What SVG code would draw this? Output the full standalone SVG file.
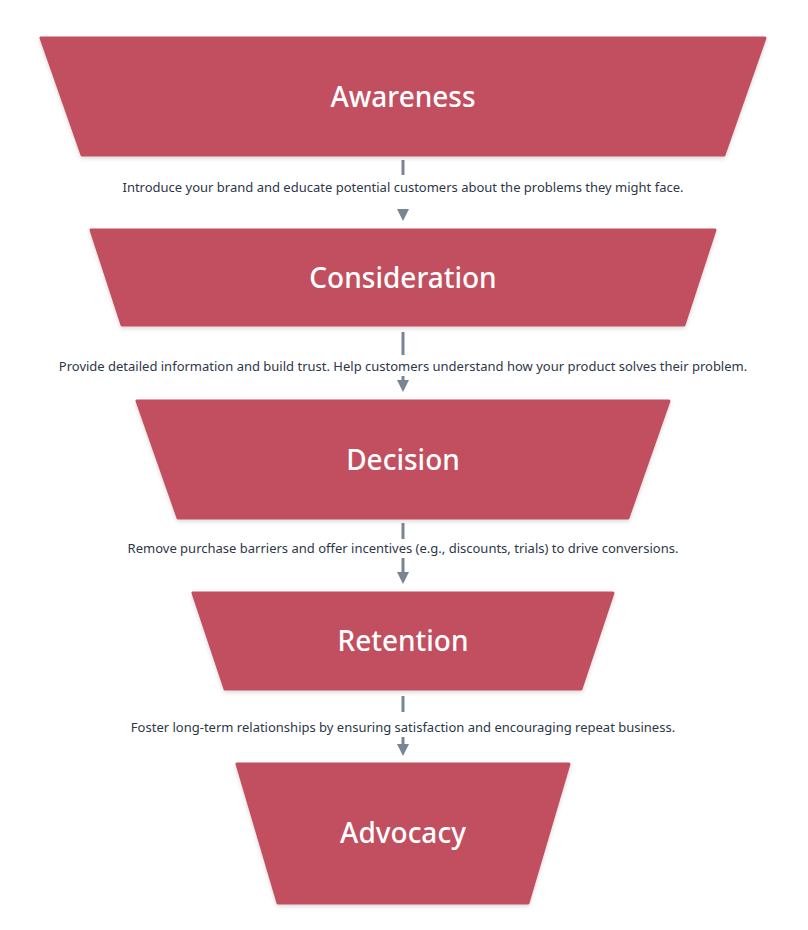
<svg xmlns="http://www.w3.org/2000/svg" width="808" height="930" viewBox="0 0 808 930">
<style>
.s{fill:#c2505f;stroke:#c2505f;stroke-width:3;stroke-linejoin:round}
.t{fill:#fff;font-family:"Noto Sans","Liberation Sans",sans-serif;font-size:28px;font-weight:500;text-anchor:middle}
.l{fill:#2d3748;font-family:"Noto Sans","Liberation Sans",sans-serif;font-size:13px;text-anchor:middle}
.c{stroke:#7a8593;stroke-width:3;fill:none}
</style>
<defs><filter id="sh" x="-5%" y="-5%" width="110%" height="115%"><feDropShadow dx="0" dy="2" stdDeviation="2" flood-opacity="0.15"/></filter>
<marker id="a" viewBox="0 0 10 10" refX="5" refY="5" markerWidth="4" markerHeight="4" orient="auto"><path d="M0,0L10,5L0,10z" fill="#7a8593"/></marker></defs>
<rect width="808" height="930" fill="#fff"/>
<g id="awareness"><polygon class="s" filter="url(#sh)" points="41,38 765,38 724,155 82,155"/><text class="t" x="403" y="107">Awareness</text></g>
<g id="consideration"><polygon class="s" filter="url(#sh)" points="91,230 715,230 684,325 122,325"/><text class="t" x="403" y="288">Consideration</text></g>
<g id="decision"><polygon class="s" filter="url(#sh)" points="137,401 669,401 628,518 178,518"/><text class="t" x="403" y="470">Decision</text></g>
<g id="retention"><polygon class="s" filter="url(#sh)" points="193,593 613,593 581,689 225,689"/><text class="t" x="403" y="651">Retention</text></g>
<g id="advocacy"><polygon class="s" filter="url(#sh)" points="237,764 569,764 528,903 278,903"/><text class="t" x="403" y="843">Advocacy</text></g>
<g id="connectors">
<line class="c" x1="403" y1="160" x2="403" y2="175"/><line class="c" x1="403" y1="212" x2="403" y2="215" marker-end="url(#a)"/>
<line class="c" x1="403" y1="332" x2="403" y2="355"/><line class="c" x1="403" y1="376" x2="403" y2="386" marker-end="url(#a)"/>
<line class="c" x1="403" y1="523" x2="403" y2="539"/><line class="c" x1="403" y1="558" x2="403" y2="578" marker-end="url(#a)"/>
<line class="c" x1="403" y1="696" x2="403" y2="712"/><line class="c" x1="403" y1="737" x2="403" y2="750" marker-end="url(#a)"/>
<text class="l" x="403" y="192">Introduce your brand and educate potential customers about the problems they might face.</text>
<text class="l" x="403" y="371">Provide detailed information and build trust. Help customers understand how your product solves their problem.</text>
<text class="l" x="403" y="553">Remove purchase barriers and offer incentives (e.g., discounts, trials) to drive conversions.</text>
<text class="l" x="403" y="732">Foster long-term relationships by ensuring satisfaction and encouraging repeat business.</text>
</g>
</svg>
